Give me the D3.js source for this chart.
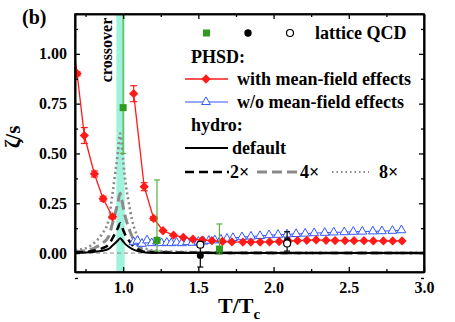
<!DOCTYPE html>
<html>
<head>
<meta charset="utf-8">
<script src="https://cdn.jsdelivr.net/npm/d3@7"></script>
<style>
  body { margin: 0; background: #fff; }
  svg { display: block; font-family: "Liberation Serif", "Times New Roman", serif; font-weight: bold; }
</style>
</head>
<body>
<div id="chart"></div>
<script>
// PHSD with mean-field effects
const redT = [0.66, 0.694, 0.742, 0.809, 0.867, 0.93];
const redV = [1.09, 0.90, 0.59, 0.397, 0.273, 0.182];
const redE = [0, 0.01, 0.04, 0.015, 0.012, 0.01];
const red2T = [1.07, 1.14, 1.203, 1.265, 1.335, 1.40, 1.464, 1.525, 1.59, 1.66, 1.723, 1.796, 1.849, 1.911, 1.973,
  2.037, 2.099, 2.159, 2.221, 2.283, 2.349, 2.409, 2.475, 2.535, 2.601, 2.663, 2.73, 2.792, 2.854];
const red2V = [0.80, 0.333, 0.174, 0.112, 0.09, 0.079, 0.07, 0.065, 0.062, 0.058, 0.056, 0.055, 0.055, 0.055, 0.056,
  0.058, 0.06, 0.062, 0.064, 0.066, 0.064, 0.063, 0.062, 0.062, 0.062, 0.061, 0.061, 0.061, 0.061];
const red2E = [0.04, 0.02, 0.01, 0, 0, 0, 0, 0, 0, 0, 0, 0, 0, 0, 0, 0, 0, 0, 0, 0, 0, 0, 0, 0, 0, 0, 0, 0, 0];

// PHSD without mean-field effects
const blueT = [1.07, 1.095, 1.125, 1.159, 1.19, 1.225, 1.255, 1.29, 1.32, 1.355, 1.39, 1.425, 1.46, 1.5, 1.535,
  1.57, 1.61, 1.65, 1.69, 1.73, 1.79, 1.85, 1.91, 1.97, 2.03, 2.09, 2.15, 2.21, 2.27, 2.34, 2.40, 2.47, 2.53,
  2.59, 2.66, 2.72, 2.79, 2.85];
const blueV = [0.055, 0.062, 0.047, 0.064, 0.05, 0.058, 0.05, 0.052, 0.05, 0.053, 0.05, 0.055, 0.052, 0.057, 0.058,
  0.062, 0.064, 0.068, 0.072, 0.076, 0.08, 0.083, 0.086, 0.09, 0.092, 0.094, 0.096, 0.098, 0.1, 0.102, 0.104, 0.105,
  0.107, 0.108, 0.109, 0.11, 0.112, 0.115];

// hydro curves
const hydroT = [0.68, 0.75, 0.815, 0.86, 0.904, 0.926, 0.95, 0.965, 0.98, 1.0, 1.015, 1.037, 1.059, 1.092, 1.126,
  1.18, 1.3, 1.6, 2.2, 3.0];
const hydro1 = [0.002, 0.003, 0.007, 0.012, 0.021, 0.035, 0.052, 0.063, 0.075, 0.058, 0.045, 0.032, 0.021, 0.011,
  0.005, 0.002, 0.001, 0.0005, 0.0002, 0.0001];
const hydro2 = [0.004, 0.006, 0.014, 0.024, 0.042, 0.07, 0.104, 0.126, 0.15, 0.116, 0.09, 0.064, 0.042, 0.022,
  0.01, 0.004, 0.002, 0.001, 0.0004, 0.0002];
const hydro4 = [0.008, 0.012, 0.028, 0.048, 0.084, 0.14, 0.208, 0.252, 0.30, 0.232, 0.18, 0.128, 0.084, 0.044,
  0.02, 0.008, 0.004, 0.002, 0.0008, 0.0004];
const hydro8 = [0.016, 0.024, 0.056, 0.096, 0.168, 0.28, 0.416, 0.504, 0.60, 0.464, 0.36, 0.256, 0.168, 0.088,
  0.04, 0.016, 0.008, 0.004, 0.0016, 0.0008];

// lattice QCD
const greenT = [1.0, 1.225, 1.64];
const greenV = [0.73, 0.064, 0.02];
const greenLo = [0.50, 0.01, -0.005];
const greenHi = [1.4, 0.367, 0.146];
const blackT = [1.513, 2.09];
const blackV = [-0.012, 0.058];
const blackLo = [-0.07, 0.04];
const blackHi = [0.03, 0.075];
const openT = [1.513, 2.09];
const openV = [0.042, 0.048];
const openLo = [0.03, 0.01];
const openHi = [0.055, 0.107];

const crossover = [0.955, 1.01];
const xTicks = [1.0, 1.5, 2.0, 2.5, 3.0];
const yTicks = [0.0, 0.25, 0.5, 0.75, 1.0];

const width = 455, height = 322;
const m = {left: 75, right: 31, top: 14, bottom: 50};
const RED = "#ff1a1a", BLUE = "#3355ff", GREEN = "#2e9a1e", GREEN_BAR = "#5aad3c", GRAY = "#8a8a8a";

const x = d3.scaleLinear().domain([0.68, 3.0]).range([m.left, width - m.right]);
const y = d3.scaleLinear().domain([-0.095, 1.2]).range([height - m.bottom, m.top]);

const svg = d3.select("#chart").append("svg")
  .attr("width", width).attr("height", height);

svg.append("clipPath").attr("id", "clip")
  .append("rect")
  .attr("x", m.left).attr("y", m.top)
  .attr("width", x.range()[1] - m.left).attr("height", y.range()[0] - m.top);

const plot = svg.append("g").attr("clip-path", "url(#clip)");

// crossover band
plot.append("rect")
  .attr("x", x(crossover[0])).attr("y", m.top)
  .attr("width", x(crossover[1]) - x(crossover[0]))
  .attr("height", y.range()[0] - m.top)
  .attr("fill", "#9ff2dc");

// zero line
plot.append("line")
  .attr("x1", x(0.68)).attr("x2", x(3.0))
  .attr("y1", y(0)).attr("y2", y(0))
  .attr("stroke", GRAY).attr("stroke-width", 1).attr("stroke-dasharray", "4,3");

// hydro curves
const hydroLine = d3.line().x(d => x(d[0])).y(d => y(d[1])).curve(d3.curveMonotoneX);
const hydroStyles = [
  {v: hydro8, color: GRAY, w: 2.6, dash: "2,3"},
  {v: hydro4, color: GRAY, w: 3, dash: "10,5"},
  {v: hydro2, color: "#000", w: 2.5, dash: "8,5"},
  {v: hydro1, color: "#000", w: 2, dash: null}
];
hydroStyles.forEach(s => {
  plot.append("path")
    .datum(hydroT.map((t, i) => [t, s.v[i]]))
    .attr("d", hydroLine)
    .attr("fill", "none")
    .attr("stroke", s.color)
    .attr("stroke-width", s.w)
    .attr("stroke-dasharray", s.dash);
});

// error bar helper
function errBars(g, pts, color, cap) {
  const eb = g.append("g").attr("stroke", color).attr("stroke-width", 1.2);
  pts.forEach(p => {
    if (p.hi - p.lo <= 0) return;
    eb.append("line").attr("x1", x(p.t)).attr("x2", x(p.t)).attr("y1", y(p.lo)).attr("y2", y(p.hi));
    [p.lo, p.hi].forEach(v => eb.append("line")
      .attr("x1", x(p.t) - cap).attr("x2", x(p.t) + cap).attr("y1", y(v)).attr("y2", y(v)));
  });
}

const lineXY = d3.line().x(d => x(d[0])).y(d => y(d[1]));

// blue PHSD w/o mean field
plot.append("path")
  .datum(blueT.map((t, i) => [t, blueV[i]]))
  .attr("d", lineXY).attr("fill", "none").attr("stroke", BLUE).attr("stroke-width", 1);
const tri = d3.symbol().type(d3.symbolTriangle).size(34);
plot.append("g").selectAll("path")
  .data(blueT.map((t, i) => [t, blueV[i]]))
  .join("path")
  .attr("d", tri)
  .attr("transform", d => `translate(${x(d[0])},${y(d[1])})`)
  .attr("fill", "#fff").attr("stroke", BLUE).attr("stroke-width", 1);

// red PHSD with mean field
const diamond = d3.symbol().type(d3.symbolDiamond2).size(55);
[[redT, redV, redE], [red2T, red2V, red2E]].forEach(([T, V, E]) => {
  const pts = T.map((t, i) => [t, V[i], E[i]]);
  plot.append("path").datum(pts).attr("d", lineXY)
    .attr("fill", "none").attr("stroke", RED).attr("stroke-width", 1.3);
  errBars(plot, pts.map(p => ({t: p[0], lo: p[1] - p[2], hi: p[1] + p[2]})), RED, 3.5);
  plot.append("g").selectAll("path").data(pts).join("path")
    .attr("d", diamond)
    .attr("transform", d => `translate(${x(d[0])},${y(d[1])})`)
    .attr("fill", RED);
});

// lattice points
errBars(plot, greenT.map((t, i) => ({t, lo: greenLo[i], hi: greenHi[i]})), GREEN_BAR, 3);
plot.append("g").selectAll("rect")
  .data(greenT.map((t, i) => [t, greenV[i]]))
  .join("rect")
  .attr("x", d => x(d[0]) - 3.5).attr("y", d => y(d[1]) - 3.5)
  .attr("width", 7).attr("height", 7).attr("fill", GREEN);

errBars(plot, blackT.map((t, i) => ({t, lo: blackLo[i], hi: blackHi[i]})), "#000", 3);
plot.append("g").selectAll("circle")
  .data(blackT.map((t, i) => [t, blackV[i]]))
  .join("circle")
  .attr("cx", d => x(d[0])).attr("cy", d => y(d[1])).attr("r", 3.5).attr("fill", "#000");

errBars(plot, openT.map((t, i) => ({t, lo: openLo[i], hi: openHi[i]})), "#000", 3);
plot.append("g").selectAll("circle")
  .data(openT.map((t, i) => [t, openV[i]]))
  .join("circle")
  .attr("cx", d => x(d[0])).attr("cy", d => y(d[1])).attr("r", 3.5)
  .attr("fill", "#fff").attr("stroke", "#000").attr("stroke-width", 1.2);

// axes with inward ticks on all four sides
const xMinor = d3.range(0.75, 3.01, 0.25).filter(v => Math.abs(v * 2 - Math.round(v * 2)) > 0.01);
const yMinor = [-0.125, 0.125, 0.375, 0.625, 0.875, 1.125];
const bottomY = y.range()[0], rightX = x.range()[1];

function styleAxis(g) {
  g.selectAll("path").attr("stroke-width", 1.6);
  g.selectAll("line").attr("stroke-width", 1.3);
  g.selectAll("text").attr("font-size", 16).attr("font-weight", "bold")
    .attr("font-family", "Liberation Serif, serif").attr("fill", "#000");
}

svg.append("g").attr("transform", `translate(0,${bottomY})`)
  .call(d3.axisBottom(x).tickValues(xTicks).tickFormat(d3.format(".1f")).tickSize(-5).tickSizeOuter(0).tickPadding(10))
  .call(styleAxis);
svg.append("g").attr("transform", `translate(0,${bottomY})`)
  .call(d3.axisBottom(x).tickValues(xMinor).tickFormat("").tickSize(-3).tickSizeOuter(0))
  .call(styleAxis);
svg.append("g").attr("transform", `translate(0,${m.top})`)
  .call(d3.axisTop(x).tickValues(xTicks).tickFormat("").tickSize(-5).tickSizeOuter(0))
  .call(styleAxis);
svg.append("g").attr("transform", `translate(0,${m.top})`)
  .call(d3.axisTop(x).tickValues(xMinor).tickFormat("").tickSize(-3).tickSizeOuter(0))
  .call(styleAxis);
svg.append("g").attr("transform", `translate(${m.left},0)`)
  .call(d3.axisLeft(y).tickValues(yTicks).tickFormat(d3.format(".2f")).tickSize(-5).tickSizeOuter(0).tickPadding(8))
  .call(styleAxis);
svg.append("g").attr("transform", `translate(${m.left},0)`)
  .call(d3.axisLeft(y).tickValues(yMinor).tickFormat("").tickSize(-3).tickSizeOuter(0))
  .call(styleAxis);
svg.append("g").attr("transform", `translate(${rightX},0)`)
  .call(d3.axisRight(y).tickValues(yTicks).tickFormat("").tickSize(-5).tickSizeOuter(0))
  .call(styleAxis);
svg.append("g").attr("transform", `translate(${rightX},0)`)
  .call(d3.axisRight(y).tickValues(yMinor).tickFormat("").tickSize(-3).tickSizeOuter(0))
  .call(styleAxis);

// frame
svg.append("rect")
  .attr("x", m.left).attr("y", m.top)
  .attr("width", rightX - m.left).attr("height", bottomY - m.top)
  .attr("fill", "none").attr("stroke", "#000").attr("stroke-width", 1.6);

// labels
svg.append("text").attr("x", 22).attr("y", 24).attr("font-size", 20).text("(b)");
svg.append("text")
  .attr("transform", `translate(20,137) rotate(-90)`)
  .attr("text-anchor", "middle").attr("font-size", 21).text("ζ/s");
const xl = svg.append("text").attr("x", 218).attr("y", 313).attr("font-size", 22);
xl.append("tspan").text("T/T");
xl.append("tspan").attr("font-size", 15).attr("dy", 6).text("c");
svg.append("text")
  .attr("transform", `translate(112,50) rotate(-90)`)
  .attr("text-anchor", "middle").attr("font-size", 16).text("crossover");

// legend
const lg = svg.append("g").attr("font-size", 18);
lg.append("rect").attr("x", 203).attr("y", 29.5).attr("width", 7).attr("height", 7).attr("fill", GREEN);
lg.append("circle").attr("cx", 248).attr("cy", 33).attr("r", 3.7).attr("fill", "#000");
lg.append("circle").attr("cx", 290).attr("cy", 33).attr("r", 3.5).attr("fill", "#fff")
  .attr("stroke", "#000").attr("stroke-width", 1.2);
lg.append("text").attr("x", 315).attr("y", 39).text("lattice QCD");
lg.append("text").attr("x", 191).attr("y", 63).text("PHSD:");
lg.append("line").attr("x1", 185).attr("x2", 228).attr("y1", 79).attr("y2", 79)
  .attr("stroke", RED).attr("stroke-width", 1.3);
lg.append("path").attr("d", diamond).attr("transform", "translate(206,79)").attr("fill", RED);
lg.append("text").attr("x", 237).attr("y", 85).text("with mean-field effects");
lg.append("line").attr("x1", 185).attr("x2", 228).attr("y1", 102).attr("y2", 102)
  .attr("stroke", BLUE).attr("stroke-width", 1);
lg.append("path").attr("d", tri).attr("transform", "translate(206,102)")
  .attr("fill", "#fff").attr("stroke", BLUE);
lg.append("text").attr("x", 237).attr("y", 108).text("w/o mean-field effects");
lg.append("text").attr("x", 191).attr("y", 131).text("hydro:");
lg.append("line").attr("x1", 185).attr("x2", 228).attr("y1", 148).attr("y2", 148)
  .attr("stroke", "#000").attr("stroke-width", 2.2);
lg.append("text").attr("x", 232).attr("y", 154).text("default");
lg.append("line").attr("x1", 185).attr("x2", 229).attr("y1", 172).attr("y2", 172)
  .attr("stroke", "#000").attr("stroke-width", 2.5).attr("stroke-dasharray", "9,5");
lg.append("text").attr("x", 230).attr("y", 178).text("2×");
lg.append("line").attr("x1", 257).attr("x2", 299).attr("y1", 172).attr("y2", 172)
  .attr("stroke", GRAY).attr("stroke-width", 3).attr("stroke-dasharray", "10,5");
lg.append("text").attr("x", 300).attr("y", 178).text("4×");
lg.append("line").attr("x1", 332).attr("x2", 369).attr("y1", 172).attr("y2", 172)
  .attr("stroke", GRAY).attr("stroke-width", 2.2).attr("stroke-dasharray", "1.5,3");
lg.append("text").attr("x", 379).attr("y", 178).text("8×");
</script>
</body>
</html>
